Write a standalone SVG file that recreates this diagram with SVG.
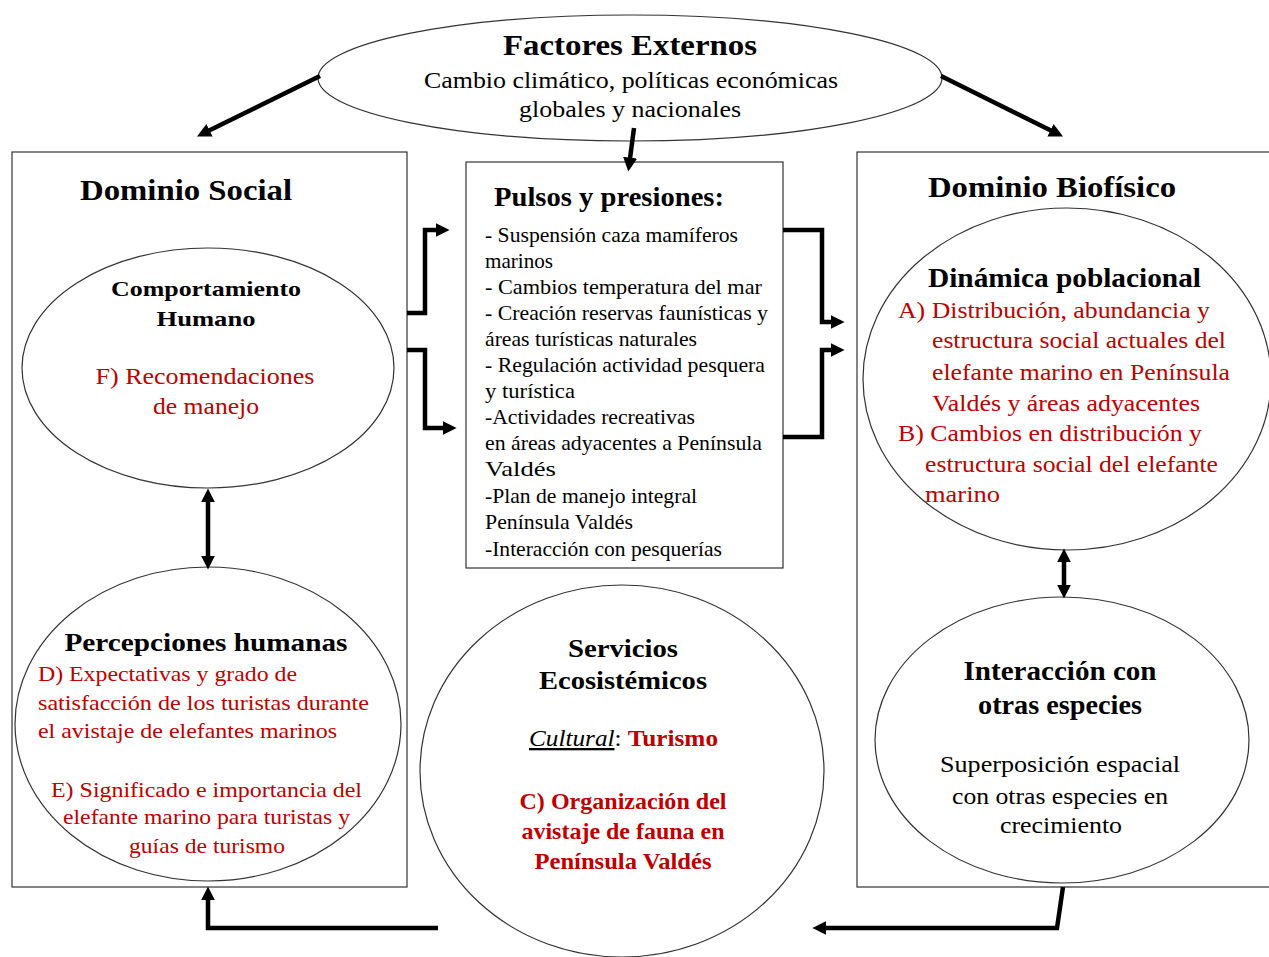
<svg xmlns="http://www.w3.org/2000/svg" width="1269" height="957" viewBox="0 0 1269 957">
<style>
text{font-family:"Liberation Serif","Times New Roman",serif;fill:#000}
.b{font-weight:bold}
.r{fill:#c00000}
.shape{fill:#fff;stroke:#333;stroke-width:1.2}
.con{fill:none;stroke:#000;stroke-width:4.5}
.m{text-anchor:middle}
</style>
<defs>
<marker id="ah" viewBox="0 0 10 10" refX="6" refY="5" markerWidth="14" markerHeight="14" markerUnits="userSpaceOnUse" orient="auto-start-reverse">
<path d="M0,0 L10,5 L0,10 z" fill="#000"/>
</marker>
</defs>
<rect width="1269" height="957" fill="#fff"/>

<g id="social">
<rect class="shape" x="12" y="152" width="395" height="735"/>
<text class="b" x="80" y="200" font-size="30" textLength="212" lengthAdjust="spacingAndGlyphs">Dominio Social</text>
</g>
<g id="biofisico">
<rect class="shape" x="857" y="152" width="420" height="735"/>
<text class="b" x="928" y="197" font-size="29" textLength="248" lengthAdjust="spacingAndGlyphs">Dominio Biofísico</text>
</g>

<g id="factores">
<ellipse class="shape" cx="630" cy="78" rx="312" ry="63"/>
<text class="b m" x="630" y="55" font-size="30" textLength="254" lengthAdjust="spacingAndGlyphs">Factores Externos</text>
<text class="m" x="631" y="88" font-size="24" textLength="414" lengthAdjust="spacingAndGlyphs">Cambio climático, políticas económicas</text>
<text class="m" x="630" y="117" font-size="24" textLength="222" lengthAdjust="spacingAndGlyphs">globales y nacionales</text>
</g>

<g id="pulsos">
<rect class="shape" x="466" y="162" width="317" height="406"/>
<text class="b" x="494" y="206" font-size="27" textLength="230" lengthAdjust="spacingAndGlyphs">Pulsos y presiones:</text>
<g font-size="21">
<text x="485" y="242" textLength="253" lengthAdjust="spacingAndGlyphs">- Suspensión caza mamíferos</text>
<text x="485" y="268" textLength="68" lengthAdjust="spacingAndGlyphs">marinos</text>
<text x="485" y="294" textLength="277" lengthAdjust="spacingAndGlyphs">- Cambios  temperatura del mar</text>
<text x="485" y="320" textLength="283" lengthAdjust="spacingAndGlyphs">- Creación reservas faunísticas y</text>
<text x="485" y="346" textLength="212" lengthAdjust="spacingAndGlyphs">áreas turísticas naturales</text>
<text x="485" y="372" textLength="280" lengthAdjust="spacingAndGlyphs">- Regulación actividad pesquera</text>
<text x="485" y="398" textLength="90" lengthAdjust="spacingAndGlyphs">y  turística</text>
<text x="485" y="424" textLength="210" lengthAdjust="spacingAndGlyphs">-Actividades recreativas</text>
<text x="485" y="450" textLength="277" lengthAdjust="spacingAndGlyphs">en áreas adyacentes a Península</text>
<text x="485" y="476" textLength="71" lengthAdjust="spacingAndGlyphs">Valdés</text>
<text x="485" y="503" textLength="212" lengthAdjust="spacingAndGlyphs">-Plan de manejo integral</text>
<text x="485" y="529" textLength="148" lengthAdjust="spacingAndGlyphs">Península Valdés</text>
<text x="485" y="556" textLength="237" lengthAdjust="spacingAndGlyphs">-Interacción con pesquerías</text>
</g>
</g>

<g id="comportamiento">
<ellipse class="shape" cx="208" cy="368" rx="186" ry="120"/>
<text class="b m" x="206" y="296" font-size="22" textLength="190" lengthAdjust="spacingAndGlyphs">Comportamiento</text>
<text class="b m" x="206" y="326" font-size="22" textLength="99" lengthAdjust="spacingAndGlyphs">Humano</text>
<text class="r m" x="205" y="384" font-size="23" textLength="219" lengthAdjust="spacingAndGlyphs">F) Recomendaciones</text>
<text class="r m" x="206" y="414" font-size="23" textLength="106" lengthAdjust="spacingAndGlyphs">de manejo</text>
</g>

<g id="percepciones">
<ellipse class="shape" cx="208" cy="724" rx="193" ry="157"/>
<text class="b m" x="206" y="651" font-size="26" textLength="283" lengthAdjust="spacingAndGlyphs">Percepciones humanas</text>
<g font-size="22">
<text class="r" x="38" y="681" textLength="259" lengthAdjust="spacingAndGlyphs">D) Expectativas y grado de</text>
<text class="r" x="38" y="710" textLength="331" lengthAdjust="spacingAndGlyphs">satisfacción de los turistas durante</text>
<text class="r" x="38" y="738" textLength="299" lengthAdjust="spacingAndGlyphs">el avistaje de elefantes marinos</text>
<text class="r" x="51" y="797" textLength="311" lengthAdjust="spacingAndGlyphs">E) Significado e importancia del</text>
<text class="r" x="63" y="824" textLength="287" lengthAdjust="spacingAndGlyphs">elefante marino para turistas y</text>
<text class="r" x="129" y="853" textLength="156" lengthAdjust="spacingAndGlyphs">guías de turismo</text>
</g>
</g>

<g id="servicios">
<ellipse class="shape" cx="622" cy="771" rx="202" ry="186"/>
<text class="b m" x="623" y="657" font-size="26" textLength="110" lengthAdjust="spacingAndGlyphs">Servicios</text>
<text class="b m" x="623" y="689" font-size="26" textLength="168" lengthAdjust="spacingAndGlyphs">Ecosistémicos</text>
<text x="529" y="746" font-size="23" textLength="189" lengthAdjust="spacingAndGlyphs"><tspan font-style="italic" text-decoration="underline">Cultural</tspan><tspan>: </tspan><tspan class="r b">Turismo</tspan></text>
<text class="r b m" x="623" y="809" font-size="23" textLength="207" lengthAdjust="spacingAndGlyphs">C) Organización del</text>
<text class="r b m" x="623" y="839" font-size="23" textLength="203" lengthAdjust="spacingAndGlyphs">avistaje de fauna en</text>
<text class="r b m" x="623" y="869" font-size="23" textLength="177" lengthAdjust="spacingAndGlyphs">Península Valdés</text>
</g>

<g id="dinamica">
<ellipse class="shape" cx="1067" cy="379" rx="204" ry="171"/>
<text class="b" x="928" y="287" font-size="27" textLength="273" lengthAdjust="spacingAndGlyphs">Dinámica poblacional</text>
<g font-size="23">
<text class="r" x="898" y="318" textLength="312" lengthAdjust="spacingAndGlyphs">A) Distribución, abundancia y</text>
<text class="r" x="932" y="348" textLength="294" lengthAdjust="spacingAndGlyphs">estructura social actuales del</text>
<text class="r" x="932" y="380" textLength="298" lengthAdjust="spacingAndGlyphs">elefante marino en Península</text>
<text class="r" x="932" y="411" textLength="268" lengthAdjust="spacingAndGlyphs">Valdés y áreas adyacentes</text>
<text class="r" x="898" y="441" textLength="304" lengthAdjust="spacingAndGlyphs">B)  Cambios en distribución y</text>
<text class="r" x="925" y="472" textLength="293" lengthAdjust="spacingAndGlyphs">estructura social del elefante</text>
<text class="r" x="925" y="502" textLength="75" lengthAdjust="spacingAndGlyphs">marino</text>
</g>
</g>

<g id="interaccion">
<ellipse class="shape" cx="1062" cy="740" rx="187" ry="143"/>
<text class="b m" x="1060" y="680" font-size="27" textLength="193" lengthAdjust="spacingAndGlyphs">Interacción con</text>
<text class="b m" x="1060" y="714" font-size="27" textLength="164" lengthAdjust="spacingAndGlyphs">otras especies</text>
<text class="m" x="1060" y="772" font-size="23" textLength="240" lengthAdjust="spacingAndGlyphs">Superposición espacial</text>
<text class="m" x="1060" y="804" font-size="23" textLength="216" lengthAdjust="spacingAndGlyphs">con otras especies en</text>
<text class="m" x="1061" y="833" font-size="23" textLength="122" lengthAdjust="spacingAndGlyphs">crecimiento</text>
</g>

<g id="connectors">
<path class="con" d="M320,76 L202,134" marker-end="url(#ah)"/>
<path class="con" d="M941,76 L1058,134" marker-end="url(#ah)"/>
<path class="con" d="M634,128 L629,166" marker-end="url(#ah)"/>
<path class="con" d="M407,313 H425 V230 H444" marker-end="url(#ah)"/>
<path class="con" d="M407,350 H425 V428 H451" marker-end="url(#ah)"/>
<path class="con" d="M783,230 H822 V322 H839" marker-end="url(#ah)"/>
<path class="con" d="M783,437 H822 V350 H839" marker-end="url(#ah)"/>
<path class="con" d="M208,494 V564" marker-start="url(#ah)" marker-end="url(#ah)"/>
<path class="con" d="M1064,554 V593" marker-start="url(#ah)" marker-end="url(#ah)"/>
<path class="con" d="M1063,887 L1057,928 H818" marker-end="url(#ah)"/>
<path class="con" d="M438,928 H208 V892" marker-end="url(#ah)"/>
</g>
</svg>
